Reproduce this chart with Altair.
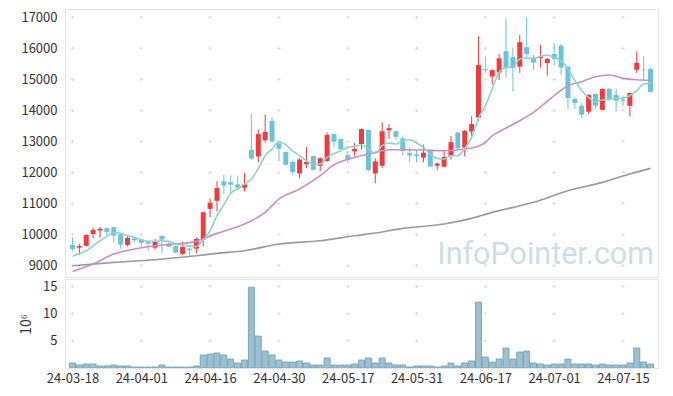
import json
import altair as alt
import pandas as pd

# ---------------- data ----------------
tick_labels = ["24-03-18", "24-04-01", "24-04-16", "24-04-30", "24-05-17",
               "24-05-31", "24-06-17", "24-07-01", "24-07-15"]
tick_index = [0, 10, 20, 30, 40, 50, 60, 70, 80]
price_ticks = [9000, 10000, 11000, 12000, 13000, 14000, 15000, 16000, 17000]
volume_ticks = [5, 10, 15]

opens = [9670, 9580, 9640, 10020, 10130, 10210, 10240, 10010, 9670, 9880,
         9840, 9770, 9580, 9960, 9710, 9630, 9380, 9550, 9550, 9840,
         10830, 11090, 11720, 11690, 11620, 11510, 12730, 12520, 13040, 13660,
         12940, 12660, 12340, 11970, 12270, 12530, 12220, 12370, 13240, 13080,
         12560, 12680, 12920, 13370, 11970, 12220, 13360, 13330, 13100, 12630,
         12580, 12480, 12710, 12220, 12190, 12540, 13290, 12800, 13320, 13770,
         15330, 15090, 15220, 15910, 15720, 15410, 16040, 15690, 15690, 15530,
         15820, 16090, 15410, 14370, 14150, 13960, 14530, 14020, 14690, 14500,
         14350, 14150, 15310, 15310, 15330]
closes = [9540, 9630, 9990, 10150, 10190, 10080, 9970, 9680, 9900, 9820,
          9740, 9710, 9790, 9840, 9610, 9420, 9600, 9510, 9860, 10720,
          11030, 11500, 11580, 11610, 11510, 11620, 12450, 13240, 13310, 13000,
          12770, 12250, 12020, 12420, 12340, 12090, 12460, 13210, 12990, 12760,
          12410, 12760, 13400, 12080, 12360, 13330, 13430, 13150, 12700, 12550,
          12530, 12640, 12190, 12290, 12500, 12980, 12780, 13340, 13560, 15460,
          15290, 15300, 15680, 15360, 15360, 16200, 15820, 15540, 15730, 15660,
          15660, 15380, 14400, 14240, 13860, 14500, 14150, 14690, 14370, 14310,
          14310, 14560, 15530, 15290, 14600]
highs = [9910, 9700, 10010, 10220, 10250, 10220, 10250, 10030, 9950, 9920,
         9860, 9790, 9860, 9980, 9760, 9660, 9770, 9570, 9900, 10740,
         11170, 11720, 11930, 11910, 11900, 11980, 13910, 13390, 13870, 13780,
         12960, 12680, 12380, 12460, 12820, 12550, 12490, 13290, 13260, 13100,
         12700, 12950, 13420, 13390, 12460, 13620, 13560, 13350, 13190, 12790,
         12730, 12900, 12740, 12330, 12700, 13180, 13320, 13370, 13810, 16390,
         15740, 15320, 15820, 16970, 16030, 16430, 17000, 15790, 16110, 15680,
         16170, 16140, 15430, 14420, 14240, 14520, 14550, 14710, 14730, 14710,
         14480, 14580, 15900, 15740, 15380]
lows = [9460, 9350, 9620, 9880, 9900, 9950, 9750, 9540, 9620, 9750,
        9560, 9480, 9520, 9410, 9590, 9400, 9340, 9290, 9400, 9620,
        10560, 10750, 11310, 11320, 11430, 11390, 12410, 12330, 12970, 12970,
        12360, 12220, 11930, 11810, 12140, 12070, 12040, 12340, 12810, 12740,
        12310, 12540, 12740, 12040, 11650, 12150, 13080, 13060, 12540, 12330,
        12330, 12330, 12170, 12080, 12160, 12410, 12760, 12520, 13170, 13660,
        15210, 14830, 14980, 15070, 14610, 15210, 15660, 15300, 15380, 15120,
        15440, 15150, 14050, 14050, 13750, 13880, 14050, 14000, 14310, 13970,
        14130, 13810, 15210, 14960, 14580]
volumes = [0.92, 0.55, 0.73, 0.73, 0.37, 0.37, 0.55, 0.37, 0.37, 0.18,
           0.18, 0.18, 0.18, 0.55, 0.18, 0.18, 0.18, 0.18, 0.37, 2.39,
           2.57, 2.76, 2.39, 1.65, 0.92, 1.47, 14.88, 5.88, 3.12, 2.39,
           1.47, 1.10, 1.10, 1.29, 0.92, 0.55, 0.55, 1.84, 0.55, 0.55,
           0.55, 0.73, 1.47, 1.84, 0.92, 1.84, 0.92, 0.55, 0.55, 0.18,
           0.37, 0.37, 0.37, 0.18, 0.37, 0.92, 0.37, 0.92, 1.29, 12.12,
           2.02, 1.10, 1.65, 3.67, 1.65, 2.94, 3.12, 0.92, 0.73, 0.55,
           0.73, 0.73, 1.65, 0.73, 0.73, 0.73, 0.55, 0.73, 0.55, 0.55,
           0.55, 0.92, 3.67, 1.10, 0.73]

ma5 = [9300, 9390, 9480, 9640, 9800, 9945, 10070, 10040, 9970, 9910,
       9840, 9785, 9785, 9805, 9785, 9700, 9665, 9630, 9620, 9840,
       10130, 10610, 10960, 11330, 11470, 11630, 11790, 12130, 12540, 12760,
       12990, 12900, 12690, 12540, 12380, 12274, 12274, 12489, 12610, 12704,
       12811, 12843, 12886, 12757, 12618, 12865, 12950, 12918, 13026, 13058,
       12950, 12811, 12596, 12457, 12435, 12543, 12543, 12779, 13133, 13750,
       14150, 14700, 15226, 15387, 15409, 15656, 15688, 15677, 15742, 15785,
       15709, 15602, 15334, 14958, 14636, 14421, 14282, 14336, 14368, 14389,
       14400, 14475, 14636, 14850, 14880]
ma20_idx = [0, 3, 6, 9, 12, 15, 18, 21, 25, 28, 30, 33, 36, 38, 41, 44, 46, 48,
            51, 54, 57, 58, 60, 61, 62, 65, 67, 70, 72, 74, 76, 78, 80, 82, 84]
ma20 = [8817, 9054, 9376, 9537, 9644, 9698, 9784, 10041, 10342, 10718, 11147,
        11469, 11898, 12250, 12489, 12650, 12736, 12736, 12725, 12704, 12757,
        12789, 12972, 13190, 13315, 13670, 13938, 14475, 14797, 14926, 15087,
        15140, 15033, 14990, 14969]
malong_idx = [0, 6, 12, 18, 21, 25, 30, 36, 41, 44, 48, 54, 58, 61, 63, 67, 72,
              77, 81, 84]
malong = [9000, 9107, 9193, 9322, 9397, 9483, 9698, 9805, 9966, 10052, 10202,
          10342, 10524, 10718, 10825, 11040, 11415, 11684, 11952, 12135]

# ---------------- tables ----------------
n = len(opens)
df = pd.DataFrame({"i": list(range(n)), "open": opens, "close": closes,
                   "high": highs, "low": lows, "vol": volumes})
df["dir"] = ["up" if c >= o else "down" for o, c in zip(opens, closes)]
ma5_df = pd.DataFrame({"i": list(range(n)), "v": ma5})
ma20_df = pd.DataFrame({"i": ma20_idx, "v": ma20})
malong_df = pd.DataFrame({"i": malong_idx, "v": malong})
pgrid = pd.DataFrame([{"i": a, "v": b} for a in tick_index for b in price_ticks])
vgrid = pd.DataFrame([{"i": a, "v": b} for a in tick_index for b in volume_ticks])

RED = "#ee3b3e"
BLUE = "#6cc2d8"
FONT = "Noto Sans CJK KR"
W = 593
EXT = 51

xscale = alt.Scale(domain=[-0.36, 84.36], nice=False, zero=False)
pscale = alt.Scale(domain=[8636, 17267], nice=False, zero=False)
vscale = alt.Scale(domain=[0, 16.4], nice=False, zero=False)
color = alt.Color("dir:N", scale=alt.Scale(domain=["up", "down"], range=[RED, BLUE]),
                  legend=None)
xnone = alt.X("i:Q", scale=xscale, axis=None)

price_axis = alt.Axis(values=price_ticks, grid=False, ticks=False, domain=False,
                      labelPadding=8, minExtent=EXT, maxExtent=EXT, title=None,
                      format="d", labelOverlap=False)


def py(field):
    return alt.Y(field, type="quantitative", scale=pscale, axis=price_axis)


cross = "M-1,0L1,0M0,-1L0,1"
pcross = alt.Chart(pgrid).mark_point(shape=cross, filled=False, size=12,
                                      color="#cfcfcf", strokeWidth=1).encode(
    x=xnone, y=py("v"))

watermark = alt.Chart(pd.DataFrame({"t": ["InfoPointer.com"]})).mark_text(
    font="Roboto", fontSize=30.5, color="#cddde7", align="right",
    baseline="alphabetic").encode(text="t:N", x=alt.value(589), y=alt.value(255))

base = alt.Chart(df)
wick = base.mark_rule(strokeWidth=1, clip=True).encode(
    x=xnone, y=py("low"), y2="high:Q", color=color)
body = base.mark_bar(size=5, clip=True).encode(
    x=xnone, y=py("open"), y2="close:Q", color=color)

line_long = alt.Chart(malong_df).mark_line(color="#9a9a9a", strokeWidth=1.6,
                                           interpolate="monotone").encode(
    x=xnone, y=py("v"))
line20 = alt.Chart(ma20_df).mark_line(color="#cc8cc6", strokeWidth=1.6,
                                      interpolate="monotone", clip=True).encode(
    x=xnone, y=py("v"))
line5 = alt.Chart(ma5_df).mark_line(color="#8ed3c9", strokeWidth=1.6,
                                    interpolate="monotone").encode(
    x=xnone, y=py("v"))

price = alt.layer(pcross, watermark, wick, body, line_long, line20, line5).properties(
    width=W, height=268)

vol_axis = alt.Axis(values=volume_ticks, grid=False, ticks=False, domain=False,
                    labelPadding=8, minExtent=EXT, maxExtent=EXT, title="10⁶",
                    titleAngle=-90, titleX=-35, titleY=45, titleAlign="center",
                    titleBaseline="alphabetic", titleFontWeight="normal",
                    titleFontSize=14, titleFont=FONT, titleColor="#333333",
                    labelOverlap=False)
x_axis = alt.Axis(values=tick_index, grid=False, ticks=False, domain=False,
                  labelPadding=4, labelFlush=False, title=None, labelOverlap=False,
                  labelExpr=json.dumps(tick_labels).replace('"', "'") + "[round(datum.value / 10)]")

vcross = alt.Chart(vgrid).mark_point(shape=cross, filled=False, size=12,
                                      color="#cfcfcf", strokeWidth=1).encode(
    x=alt.X("i:Q", scale=xscale, axis=x_axis),
    y=alt.Y("v:Q", scale=vscale, axis=vol_axis))
vbars = base.mark_bar(size=6, fill="#9dc0d1", stroke="#7aa6ba", strokeWidth=1,
                      clip=True).encode(
    x=alt.X("i:Q", scale=xscale, axis=x_axis),
    y=alt.Y("vol:Q", scale=vscale, axis=vol_axis))

volume = alt.layer(vcross, vbars).properties(width=W, height=89)

chart = alt.vconcat(price, volume, spacing=0).properties(
    padding={"left": 5, "top": 0, "right": 0, "bottom": 2}
).configure_view(stroke="#e4e4e4").configure_axis(
    labelFont=FONT, labelFontSize=13, labelColor="#333333", labelOverlap=False
)

chart.save("out.html", embed_options={"renderer": "svg", "actions": False})
